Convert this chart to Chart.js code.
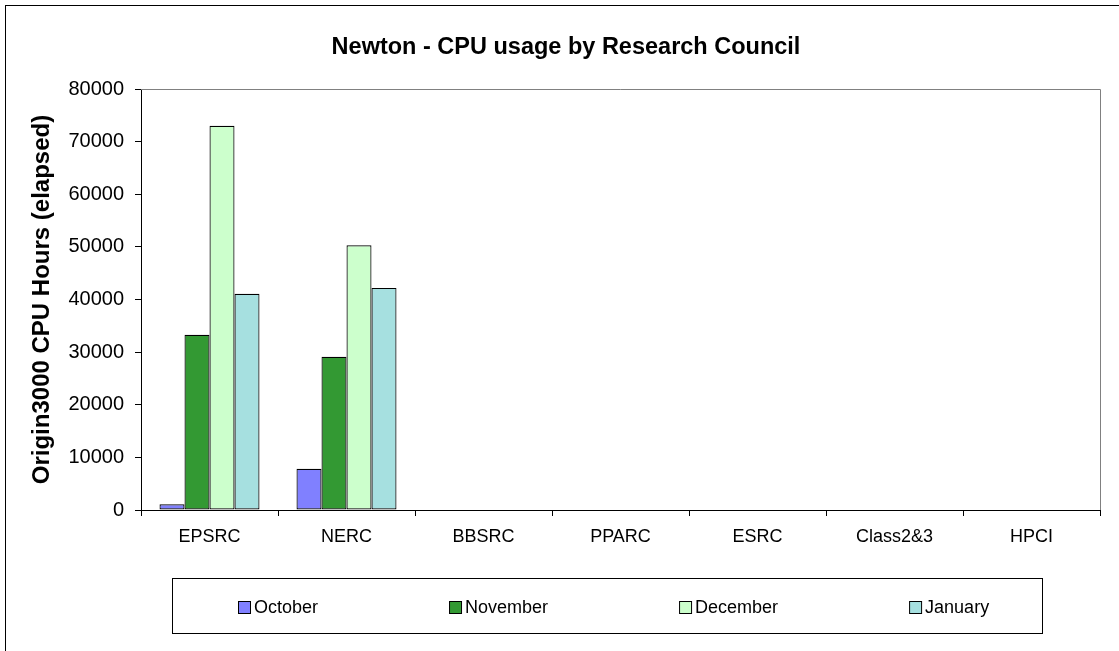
<!DOCTYPE html>
<html>
<head>
<meta charset="utf-8">
<script src="https://cdn.jsdelivr.net/npm/chart.js@4/dist/chart.umd.min.js"></script>
<style>
  html, body { margin: 0; padding: 0; background: #fff; }
  #wrap { width: 1119px; height: 651px; position: relative; }
</style>
</head>
<body>
<div id="wrap"><canvas id="c" width="1119" height="651"></canvas></div>
<script>
const categories = ["EPSRC", "NERC", "BBSRC", "PPARC", "ESRC", "Class2&3", "HPCI"];
const october  = [1100, 7850, 0, 0, 0, 0, 0];
const november = [33300, 29100, 0, 0, 0, 0, 0];
const december = [73000, 50300, 0, 0, 0, 0, 0];
const january  = [41100, 42200, 0, 0, 0, 0, 0];
const seriesNames = ["October", "November", "December", "January"];
const seriesColors = ["#8080FF", "#339933", "#CCFFCC", "#A6E0E0"];
const yTicks = [0, 10000, 20000, 30000, 40000, 50000, 60000, 70000, 80000];
const chartTitle = "Newton - CPU usage by Research Council";
const yTitle = "Origin3000 CPU Hours (elapsed)";

const FONT = "'Liberation Sans', Arial, Helvetica, sans-serif";

const frame = {
  id: 'frame',
  beforeDraw(chart) {
    const ctx = chart.ctx;
    ctx.save();
    ctx.fillStyle = '#fff';
    ctx.fillRect(0, 0, chart.width, chart.height);
    ctx.strokeStyle = '#000';
    ctx.lineWidth = 1;
    ctx.strokeRect(5.5, 5.5, chart.width + 10, chart.height + 10);
    ctx.restore();
  },
  afterDraw(chart) {
    const ctx = chart.ctx;
    const a = chart.chartArea;
    ctx.save();
    // chart title
    ctx.fillStyle = '#000';
    ctx.font = "bold 23.5px " + FONT;
    ctx.textAlign = 'center';
    ctx.textBaseline = 'middle';
    ctx.fillText(chartTitle, 566, 48);

    // plot area top & right border
    ctx.strokeStyle = '#808080';
    ctx.lineWidth = 1;
    ctx.beginPath();
    ctx.moveTo(a.left, Math.round(a.top) + 0.5);
    ctx.lineTo(Math.round(a.right) + 0.5, Math.round(a.top) + 0.5);
    ctx.lineTo(Math.round(a.right) + 0.5, a.bottom);
    ctx.stroke();

    // legend box
    ctx.strokeStyle = '#000';
    ctx.strokeRect(172.5, 578.5, 870, 55);
    ctx.font = "18px " + FONT;
    ctx.textBaseline = 'middle';
    ctx.textAlign = 'left';
    let x = 238;
    const y = 608;
    chart.data.datasets.forEach(ds => {
      ctx.fillStyle = ds.backgroundColor;
      ctx.fillRect(x + 0.5, y - 6.5, 12, 12);
      ctx.strokeStyle = '#000';
      ctx.strokeRect(x + 0.5, y - 6.5, 12, 12);
      ctx.fillStyle = '#000';
      ctx.fillText(ds.label, x + 16, y);
      x += 16 + ctx.measureText(ds.label).width + 131;
    });
    ctx.restore();
  }
};

const datasets = [october, november, december, january].map((d, i) => ({
  label: seriesNames[i],
  data: d,
  backgroundColor: seriesColors[i],
  borderColor: '#000',
  borderWidth: 1.2,
  borderSkipped: false,
  categoryPercentage: 0.73,
  barPercentage: 1.0
}));

new Chart(document.getElementById('c'), {
  type: 'bar',
  data: { labels: categories, datasets },
  plugins: [frame],
  options: {
    responsive: false,
    animation: false,
    devicePixelRatio: 1,
    layout: { padding: { left: 0, right: 19, top: 89, bottom: 0 } },
    plugins: {
      legend: { display: false },
      tooltip: { enabled: false },
      title: { display: false }
    },
    scales: {
      x: {
        offset: true,
        grid: { offset: true, drawOnChartArea: false, drawTicks: true, tickLength: 6, color: '#000' },
        border: { color: '#000', width: 1 },
        ticks: { color: '#000', font: { family: FONT, size: 18 }, padding: 10, maxRotation: 0, autoSkip: false },
        afterFit: (s) => { s.height = 141; }
      },
      y: {
        min: 0,
        max: 80000,
        afterBuildTicks: (s) => { s.ticks = yTicks.map(v => ({ value: v })); },
        grid: { drawOnChartArea: false, drawTicks: true, tickLength: 6, color: '#000' },
        border: { color: '#000', width: 1 },
        ticks: { color: '#000', font: { family: FONT, size: 20 }, padding: 11, callback: v => String(v) },
        title: {
          display: true,
          text: yTitle,
          color: '#000',
          font: { family: FONT, size: 24, weight: 'bold' },
          padding: { top: 28, bottom: 0 }
        },
        afterFit: (s) => { s.width = 141; }
      }
    }
  }
});
</script>
</body>
</html>
